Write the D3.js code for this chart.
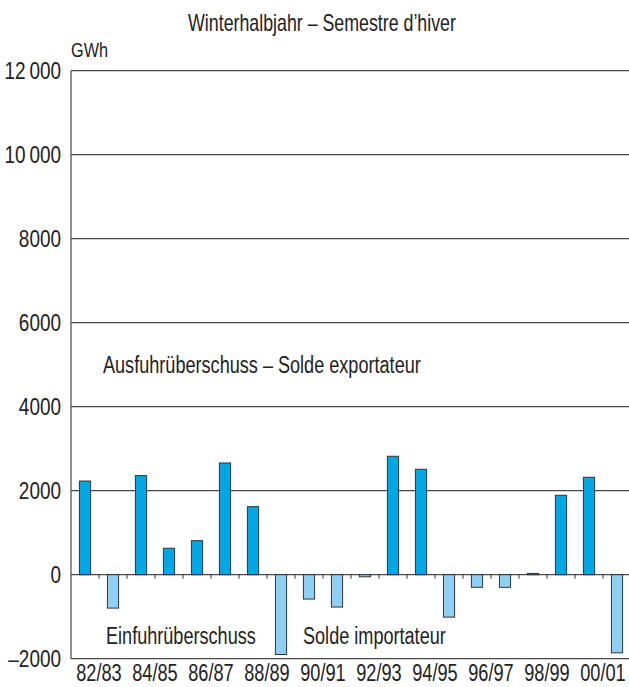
<!DOCTYPE html>
<html>
<head>
<meta charset="utf-8">
<script src="https://cdn.jsdelivr.net/npm/d3@7"></script>
<style>
  body { margin: 0; background: #fff; }
  svg text { font-family: "Liberation Sans", Arial, sans-serif; fill: #222; }
</style>
</head>
<body>
<div id="viz"></div>
<script>
// Winter half-year electricity trade balance, GWh
const seasons = ["82/83", "83/84", "84/85", "85/86", "86/87", "87/88", "88/89", "89/90", "90/91", "91/92",
  "92/93", "93/94", "94/95", "95/96", "96/97", "97/98", "98/99", "99/00", "00/01", "01/02"];
const balance = [2230, -795, 2360, 630, 810, 2660, 1620, -1900, -580, -770,
  -50, 2820, 2510, -1010, -300, -300, 30, 1890, 2320, -1860];
const tickLabels = ["82/83", "84/85", "86/87", "88/89", "90/91", "92/93", "94/95", "96/97", "98/99", "00/01"];
const yTicks = [-2000, 0, 2000, 4000, 6000, 8000, 10000, 12000];
const yTickText = ["\u20132000", "0", "2000", "4000", "6000", "8000", "10\u2009000", "12\u2009000"];

const COLORS = {
  export: "#00a6e6",
  import: "#8ecff4",
  stroke: "#333",
  grid: "#4a4a4a"
};

const width = 629, height = 687;
const margin = { left: 71 };

const svg = d3.select("#viz")
  .append("svg")
  .attr("width", width)
  .attr("height", height);

const x = d3.scaleBand()
  .domain(seasons)
  .range([margin.left, margin.left + 560])
  .paddingInner(0.6)
  .paddingOuter(0.3);

const y = d3.scaleLinear()
  .domain([-2000, 12000])
  .range([658.7, 70.7]);

// horizontal grid lines
svg.append("g")
  .selectAll("line")
  .data(yTicks)
  .join("line")
  .attr("x1", margin.left)
  .attr("x2", width)
  .attr("y1", d => y(d))
  .attr("y2", d => y(d))
  .attr("stroke", COLORS.grid)
  .attr("stroke-width", 1.2);

// y tick labels
svg.append("g")
  .selectAll("text")
  .data(yTicks)
  .join("text")
  .attr("class", "t")
  .attr("x", 61)
  .attr("y", d => y(d))
  .attr("dy", "0.34em")
  .attr("text-anchor", "end")
  .attr("font-size", 24.5)
  .text((d, i) => yTickText[i]);

// left axis line
svg.append("line")
  .attr("x1", margin.left)
  .attr("x2", margin.left)
  .attr("y1", y(12000))
  .attr("y2", y(-2000))
  .attr("stroke", COLORS.grid)
  .attr("stroke-width", 1.2);

// small ticks under the zero line, between the bars
const step = x.step();
svg.append("g")
  .selectAll("line")
  .data(seasons.slice(1))
  .join("line")
  .attr("x1", d => x(d) - step * x.paddingOuter())
  .attr("x2", d => x(d) - step * x.paddingOuter())
  .attr("y1", y(0))
  .attr("y2", y(0) + 4)
  .attr("stroke", COLORS.stroke)
  .attr("stroke-width", 1);

// bars
svg.append("g")
  .selectAll("rect")
  .data(seasons)
  .join("rect")
  .attr("x", d => x(d))
  .attr("width", x.bandwidth())
  .attr("y", (d, i) => y(Math.max(0, balance[i])))
  .attr("height", (d, i) => Math.abs(y(balance[i]) - y(0)))
  .attr("fill", (d, i) => balance[i] >= 0 ? COLORS.export : COLORS.import)
  .attr("stroke", COLORS.stroke)
  .attr("stroke-width", 1);

// x labels, centred on the pair of seasons they name
svg.append("g")
  .selectAll("text")
  .data(tickLabels)
  .join("text")
  .attr("class", "t")
  .attr("x", d => x(d) + x.bandwidth() / 2 + step / 2)
  .attr("y", 681)
  .attr("text-anchor", "middle")
  .attr("font-size", 23.5)
  .text(d => d);

// titles and annotations
const title = svg.append("text")
  .attr("class", "t")
  .attr("x", 322)
  .attr("y", 31)
  .attr("text-anchor", "middle")
  .attr("font-size", 23)
  .text("Winterhalbjahr \u2013 Semestre d\u2019hiver");

svg.append("text")
  .attr("class", "t")
  .attr("x", 71)
  .attr("y", 57)
  .attr("font-size", 21)
  .text("GWh");

svg.append("text")
  .attr("class", "t")
  .attr("x", 103)
  .attr("y", 373)
  .attr("font-size", 23.4)
  .text("Ausfuhr\u00fcberschuss \u2013 Solde exportateur");

svg.append("text")
  .attr("class", "t")
  .attr("x", 106)
  .attr("y", 644)
  .attr("font-size", 23.4)
  .text("Einfuhr\u00fcberschuss");

svg.append("text")
  .attr("class", "t")
  .attr("x", 303)
  .attr("y", 644)
  .attr("font-size", 23.4)
  .text("Solde importateur");

// the original uses a condensed face; squeeze every label horizontally
const k = 268 / title.node().getComputedTextLength();
svg.selectAll("text.t").attr("transform", function () {
  const x0 = +this.getAttribute("x");
  return `translate(${x0},0) scale(${k},1) translate(${-x0},0)`;
});
</script>
</body>
</html>
